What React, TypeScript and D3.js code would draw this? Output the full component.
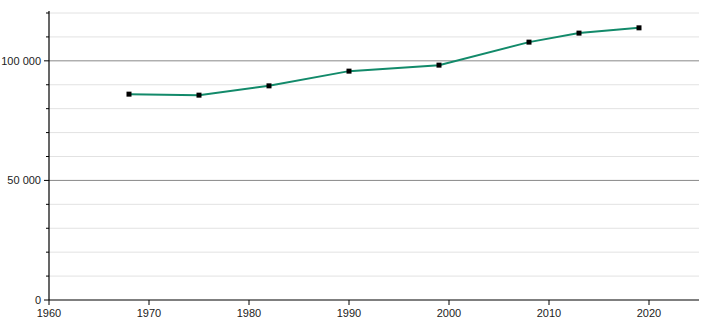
import React from "react";
import * as d3 from "d3";

const years = [1968, 1975, 1982, 1990, 1999, 2008, 2013, 2019];
const population = [86070, 85650, 89540, 95690, 98200, 107820, 111590, 113800];
const xTicks = [1960, 1970, 1980, 1990, 2000, 2010, 2020];
const yMajorTicks = [0, 50000, 100000];
const yMinorTicks = [10000, 20000, 30000, 40000, 60000, 70000, 80000, 90000, 110000, 120000];

const W = 710;
const H = 320;
const left = 49;
const right = 699;
const bottom = 300;
const top = 13;

export default function App() {
  const x = d3.scaleLinear().domain([1960, 2025]).range([left, right]);
  const y = d3.scaleLinear().domain([0, 120000]).range([bottom, top]);
  const line = d3
    .line<number>()
    .x((_, i) => x(years[i]))
    .y((d) => y(d))
    .curve(d3.curveLinear);
  const fmt = (v: number) => d3.format(",")(v).replace(/,/g, " ");
  const font = "'Liberation Sans', Arial, sans-serif";
  return (
    <svg width={W} height={H} style={{ position: "absolute", left: 0, top: 0 }}>
      <rect width={W} height={H} fill="#fff" />
      {yMinorTicks.map((t) => (
        <g key={"m" + t}>
          <line x1={left} x2={right} y1={y(t)} y2={y(t)} stroke="#e2e2e2" strokeWidth={1} />
          <line x1={left - 3} x2={left} y1={y(t)} y2={y(t)} stroke="#000" strokeWidth={1} />
        </g>
      ))}
      {yMajorTicks.map((t) => (
        <g key={"M" + t}>
          {t > 0 && (
            <line x1={left} x2={right} y1={y(t)} y2={y(t)} stroke="#888" strokeWidth={1} />
          )}
          <line x1={left - 5} x2={left} y1={y(t)} y2={y(t)} stroke="#000" strokeWidth={1} />
          <text
            x={left - 8}
            y={y(t)}
            dy="0.35em"
            textAnchor="end"
            fontSize={11}
            fontFamily={font}
            fill="#222"
          >
            {fmt(t)}
          </text>
        </g>
      ))}
      <line x1={left} x2={left} y1={top - 2} y2={bottom} stroke="#000" strokeWidth={1.2} />
      <line x1={left} x2={right} y1={bottom} y2={bottom} stroke="#000" strokeWidth={1.2} />
      {xTicks.map((t) => (
        <g key={"x" + t}>
          <line x1={x(t)} x2={x(t)} y1={bottom} y2={bottom + 5} stroke="#000" strokeWidth={1} />
          <text
            x={x(t)}
            y={bottom + 17}
            textAnchor="middle"
            fontSize={11}
            fontFamily={font}
            fill="#222"
          >
            {t}
          </text>
        </g>
      ))}
      <path d={line(population) || ""} fill="none" stroke="#128a6a" strokeWidth={2} />
      {population.map((v, i) => (
        <rect
          key={"p" + i}
          x={x(years[i]) - 2.5}
          y={y(v) - 2.5}
          width={5}
          height={5}
          fill="#000"
        />
      ))}
    </svg>
  );
}
